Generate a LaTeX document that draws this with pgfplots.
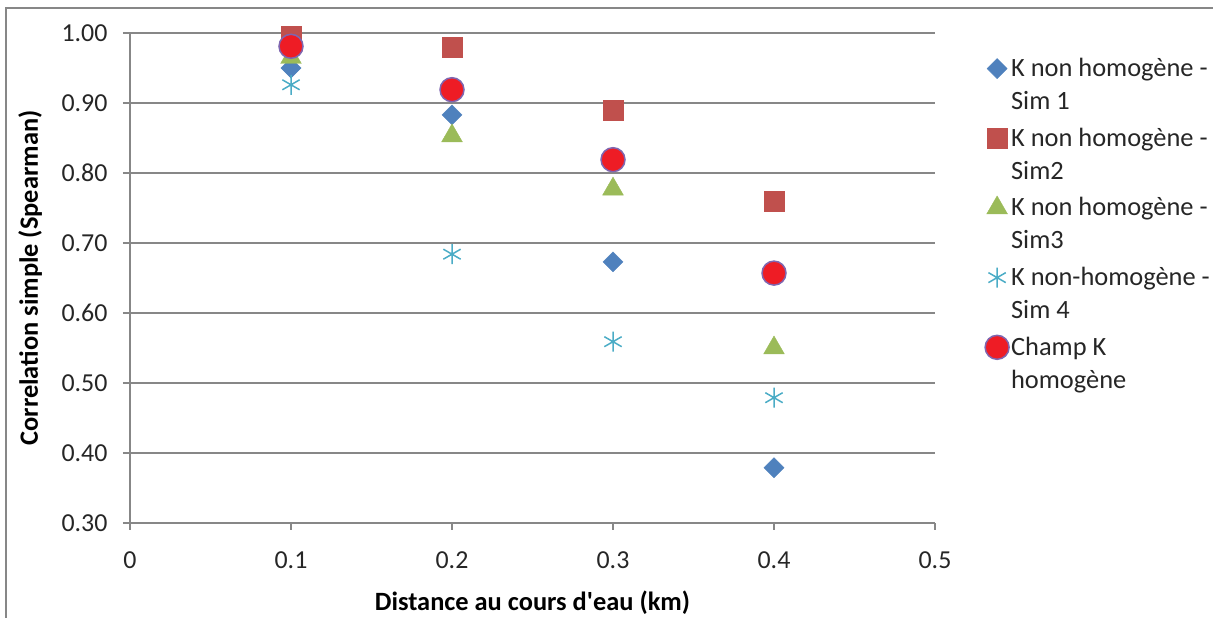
\documentclass[border=0pt]{standalone}
\usepackage{pgfplots}
\pgfplotsset{compat=1.18}
\usepackage{fontspec}
\setmainfont{Carlito}[Ligatures=TeXOff]
\definecolor{c1}{HTML}{4F81BD}
\definecolor{c2}{HTML}{C0504D}
\definecolor{c3}{HTML}{9BBB59}
\definecolor{c4}{HTML}{4BACC6}
\definecolor{c5}{HTML}{EE1C25}
\definecolor{c5e}{HTML}{7F66B0}
\definecolor{gr}{HTML}{878787}
\begin{document}
\begin{tikzpicture}[x=1bp,y=1bp]
\useasboundingbox (0,0) rectangle (1213,618);
\draw[gr,line width=1.5bp] (6,-10) -- (6,610) -- (1230,610);
\begin{axis}[
  at={(130bp,95bp)}, anchor=south west,
  scale only axis, width=805bp, height=490bp,
  xmin=0, xmax=0.5, ymin=0.3, ymax=1.0,
  xtick={0,0.1,0.2,0.3,0.4,0.5},
  ytick={0.3,0.4,0.5,0.6,0.7,0.8,0.9,1.0},
  xticklabels={0,0.1,0.2,0.3,0.4,0.5},
  yticklabel style={/pgf/number format/.cd,fixed,fixed zerofill,precision=2,assume math mode=true},
  tick label style={font=\fontsize{26}{30}\selectfont, text=black!85},
  ymajorgrids, grid style={gr,line width=1.5bp},
  axis x line*=bottom, axis y line*=left,
  axis line style={gr,line width=1.5bp,-},
  tick style={gr,line width=1.5bp},
  tick align=outside, major tick length=7bp,
  xticklabel shift=18bp, yticklabel shift=12bp,
  xlabel={\textbf{Distance au cours d'eau (km)}},
  ylabel={\textbf{Correlation simple (Spearman)}},
  label style={font=\fontsize{26.5}{30}\selectfont},
  xlabel style={at={(axis description cs:0.5,-0.163)},anchor=center},
  ylabel style={at={(axis description cs:-0.124,0.5)},anchor=center,rotate=0},
  legend style={at={(axis description cs:1.062,0.953)},anchor=north west,draw=none,fill=none,
    font=\fontsize{26.5}{33}\selectfont, cells={align=left,anchor=west}, row sep=13bp,
    inner sep=0pt, text=black!85},
  legend image code/.code={\draw[#1,yshift=16bp] plot coordinates {(0.3em,0cm)};},
  clip=false,
]
\addplot[only marks, mark=square*, mark size=7.1bp, color=c1, mark options={fill=c1,draw=c1,rotate=45}]
  coordinates {(0.1,0.950) (0.2,0.883) (0.3,0.673) (0.4,0.379)};
\addlegendentry{K non homogène -\\Sim 1}
\addplot[only marks, mark=square*, mark size=10bp, color=c2, mark options={fill=c2,draw=c2}]
  coordinates {(0.1,0.996) (0.2,0.979) (0.3,0.890) (0.4,0.760)};
\addlegendentry{K non homogène -\\Sim2}
\addplot[only marks, mark=triangle*, mark size=12bp, color=c3, mark options={fill=c3,draw=c3}]
  coordinates {(0.1,0.965) (0.2,0.853) (0.3,0.777) (0.4,0.550)};
\addlegendentry{K non homogène -\\Sim3}
\addplot[only marks, mark=asterisk, mark size=10bp, color=c4, mark options={line width=1.5bp}]
  coordinates {(0.1,0.926) (0.2,0.684) (0.3,0.559) (0.4,0.479)};
\addlegendentry{K non-homogène -\\Sim 4}
\addplot[only marks, mark=*, mark size=12bp, mark options={fill=c5,draw=c5e,line width=1.5bp}]
  coordinates {(0.1,0.981) (0.2,0.919) (0.3,0.819) (0.4,0.657)};
\addlegendentry{Champ K\\homogène}
\end{axis}
\end{tikzpicture}
\end{document}
